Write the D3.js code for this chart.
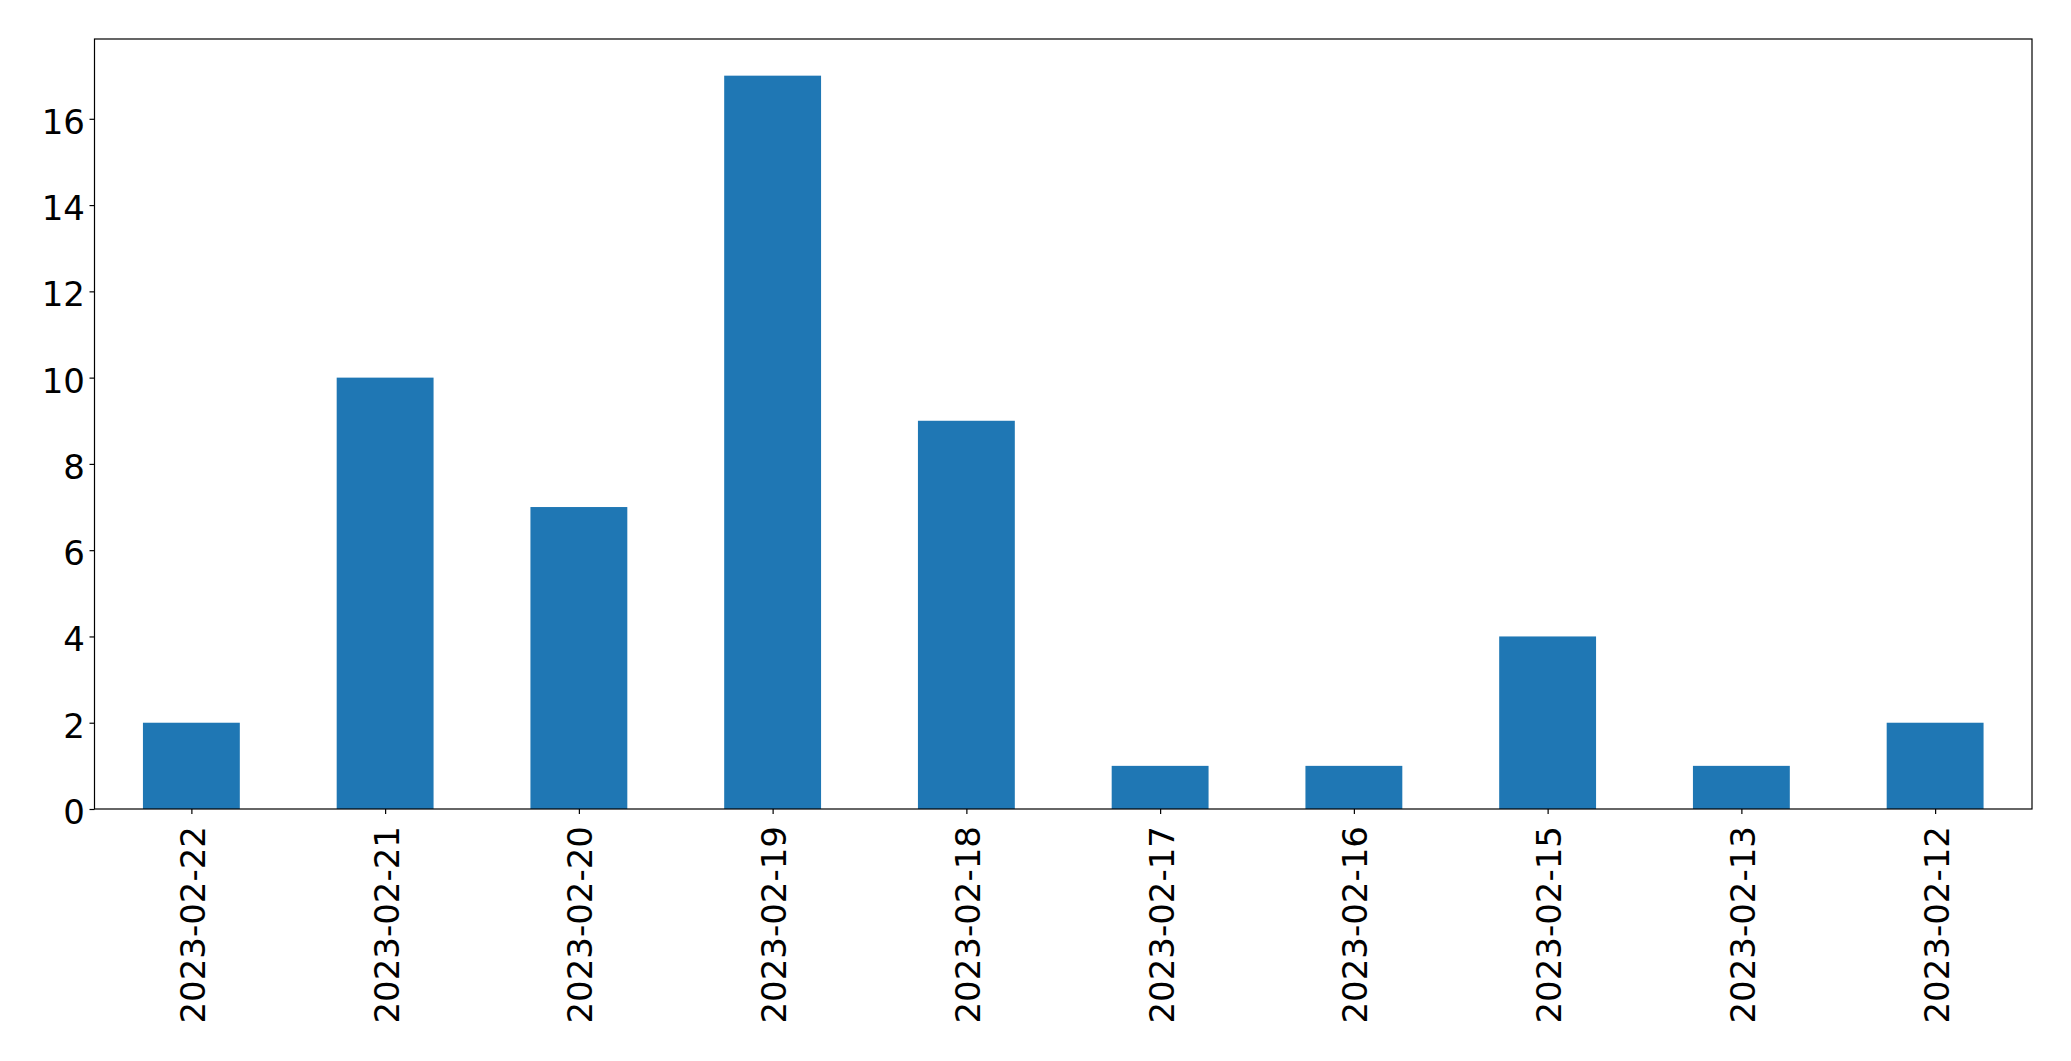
<!DOCTYPE html>
<html>
<head>
<meta charset="utf-8">
<script src="https://cdn.jsdelivr.net/npm/d3@7"></script>
<style>
html,body{margin:0;padding:0;background:#fff;}
text{font-family:"DejaVu Sans",sans-serif;}
</style>
</head>
<body>
<svg id="chart" width="2071" height="1061"></svg>
<script>
const categories = ["2023-02-22","2023-02-21","2023-02-20","2023-02-19","2023-02-18","2023-02-17","2023-02-16","2023-02-15","2023-02-13","2023-02-12"];
const values = [2,10,7,17,9,1,1,4,1,2];
const yTicks = [0,2,4,6,8,10,12,14,16];

(function(){
const svg = d3.select("#chart");
const mLeft = 94.5, mRight = 2032, mTop = 39, mBottom = 809;
const fontSize = 34;

const x = d3.scaleLinear().domain([-0.5, categories.length - 0.5]).range([mLeft, mRight]);
const yMax = d3.max(values) * 1.05;
const y = d3.scaleLinear().domain([0, yMax]).range([mBottom, mTop]);

// bars
svg.append("g").selectAll("rect").data(values).join("rect")
  .attr("x", (d,i) => x(i - 0.25))
  .attr("width", (d,i) => x(i + 0.25) - x(i - 0.25))
  .attr("y", d => y(d))
  .attr("height", d => y(0) - y(d))
  .attr("fill", "#1f77b4");

// y axis
const yAxis = d3.axisLeft(y).tickValues(yTicks).tickSize(5).tickPadding(5).tickFormat(d3.format("d"));
const gy = svg.append("g").attr("transform", `translate(${mLeft},0)`).call(yAxis);
gy.select(".domain").remove();
gy.selectAll(".tick line").attr("stroke", "#000").attr("stroke-width", 1.2);
gy.selectAll(".tick text").attr("font-size", fontSize).attr("fill", "#000")
  .attr("font-family", "DejaVu Sans").attr("x", -9.5).attr("dy", 14.5);

// x axis
const xAxis = d3.axisBottom(x).tickValues(d3.range(categories.length)).tickSize(5).tickFormat(i => categories[i]);
const gx = svg.append("g").attr("transform", `translate(0,${mBottom})`).call(xAxis);
gx.select(".domain").remove();
gx.selectAll(".tick line").attr("stroke", "#000").attr("stroke-width", 1.2);
gx.selectAll(".tick text").attr("font-size", fontSize).attr("fill", "#000")
  .attr("font-family", "DejaVu Sans")
  .attr("text-anchor", "end")
  .attr("x", 0).attr("y", 0)
  .attr("dy", "0.38em")
  .attr("transform", "translate(0,17) rotate(-90)");

// frame
svg.append("rect").attr("x", mLeft).attr("y", mTop).attr("width", mRight - mLeft).attr("height", mBottom - mTop)
  .attr("fill", "none").attr("stroke", "#000").attr("stroke-width", 1.2);
})();
</script>
</body>
</html>
